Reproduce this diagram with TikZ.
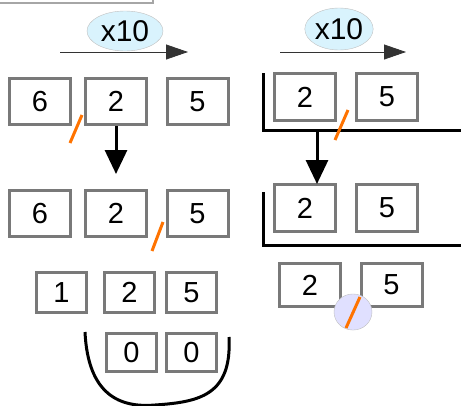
\documentclass[tikz,border=0pt]{standalone}
\usepackage{fontspec}
\setmainfont{Liberation Sans}
\usetikzlibrary{arrows.meta,shapes.geometric}
\begin{document}
\begin{tikzpicture}[x=1pt,y=-1pt,
  cell/.style={draw=gray!95!black,line width=3pt,fill=white,inner sep=0pt,font=\fontsize{29}{29}\selectfont},
  oval/.style={ellipse,draw=gray!50,fill=cyan!15,inner sep=0pt,font=\fontsize{30}{30}\selectfont},
  rarrow/.style={draw=black!80,line width=0.8pt,-{Triangle[length=22pt,width=15pt]}},
  darrow/.style={draw=black,line width=3pt,-{Triangle[length=24pt,width=22pt]}},
  slash/.style={draw=orange!90!red,line width=3pt},
  bracket/.style={draw=black,line width=3pt}]
\useasboundingbox (0,0) rectangle (461,405);
\clip (0,0) rectangle (461,405);
\node[draw=gray!70,line width=1.5pt,minimum width=160pt,minimum height=20pt] (top) at (73,-7) {};
% left
\node[oval,minimum width=76pt,minimum height=40pt] (e1) at (125,31) {x10};
\coordinate (a1s) at (60,52); \coordinate (a1e) at (188,52);
\draw[rarrow] (a1s) -- (a1e);
\begin{scope}[cell/.append style={minimum width=61pt,minimum height=46pt}]
\node[cell] (r1a) at (40,101.5) {6};
\node[cell] (r1b) at (116,101.5) {2};
\node[cell] (r1c) at (197.5,101.5) {5};
\node[cell] (r2a) at (40,213.5) {6};
\node[cell] (r2b) at (116,213.5) {2};
\node[cell] (r2c) at (197.5,213.5) {5};
\end{scope}
\begin{scope}[cell/.append style={minimum width=50pt,minimum height=40pt}]
\node[cell] (r3a) at (61.5,292.5) {1};
\node[cell] (r3b) at (129.5,292.5) {2};
\node[cell] (r3c) at (191.5,292.5) {5};
\node[cell,minimum height=38pt] (r4a) at (131.5,352.5) {0};
\node[cell,minimum height=38pt] (r4b) at (191.5,352.5) {0};
\end{scope}
\coordinate (d1e) at (116,174);
\draw[darrow] (r1b.south) -- (d1e);
\coordinate (s1a) at (70,143); \coordinate (s1b) at (82,115);
\draw[slash] (s1a) -- (s1b);
\coordinate (s2a) at (152,251); \coordinate (s2b) at (163,222);
\draw[slash] (s2a) -- (s2b);
\coordinate (u1) at (85,332); \coordinate (u2) at (229,337);
\draw[bracket] (u1) .. controls (88,395) and (120,408) .. (155,405) .. controls (200,402) and (232,395) .. (u2);
% right
\node[oval,minimum width=68pt,minimum height=42pt] (e2) at (339,29) {x10};
\coordinate (a2s) at (280,52); \coordinate (a2e) at (406,52);
\draw[rarrow] (a2s) -- (a2e);
\begin{scope}[cell/.append style={minimum width=61pt,minimum height=47pt}]
\node[cell] (q1a) at (305,97) {2};
\node[cell] (q1b) at (387,97) {5};
\node[cell] (q2a) at (305,208) {2};
\node[cell] (q2b) at (387,208) {5};
\node[cell,minimum height=43pt] (q3a) at (310,285) {2};
\node[cell,minimum height=43pt] (q3b) at (391.5,285) {5};
\end{scope}
\coordinate (b1t) at (263,73); \coordinate (b1c) at (263,130); \coordinate (b1r) at (462,130);
\draw[bracket] (b1t) -- (b1c) -- (b1r);
\coordinate (b2t) at (263,192); \coordinate (b2c) at (263,245); \coordinate (b2r) at (462,245);
\draw[bracket] (b2t) -- (b2c) -- (b2r);
\coordinate (d2s) at (317,130); \coordinate (d2e) at (317,184);
\draw[darrow] (d2s) -- (d2e);
\coordinate (s3a) at (335,140); \coordinate (s3b) at (348,110);
\draw[slash] (s3a) -- (s3b);
\node[circle,draw=gray!50,fill=blue!12,minimum size=38pt,inner sep=0pt,yscale=0.95] (c1) at (353,312) {};
\coordinate (s4a) at (346,328); \coordinate (s4b) at (360,297);
\draw[slash] (s4a) -- (s4b);
\end{tikzpicture}
\end{document}
